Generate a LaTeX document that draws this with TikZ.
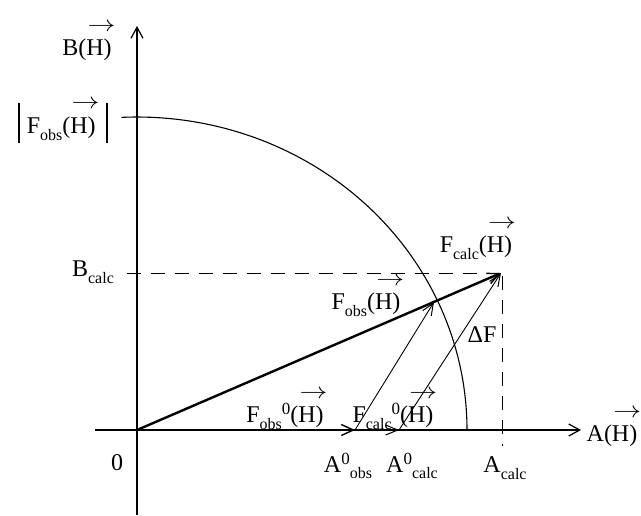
\documentclass[tikz,border=0pt]{standalone}
\usepackage{fontspec}
\setmainfont{Liberation Serif}
\usetikzlibrary{arrows.meta}
\newcommand\vH{(H)\llap{\raisebox{1.02em}{\scalebox{1.12}[0.9]{$\rightarrow$}}\kern-0.16em}}
\newcommand\sbs[1]{\raisebox{-0.28em}{\fontsize{16}{16}\selectfont #1}}
\newcommand\spz{\raisebox{0.33em}{\fontsize{17}{17}\selectfont 0}}
\newcommand\absbar{\rule[-0.42em]{1.3pt}{1.7em}}
\tikzset{
  lbl/.style={inner sep=0pt, font=\fontsize{24}{28}\selectfont},
  axis/.style={line width=1.2pt, -{Straight Barb[length=11pt,width=12pt,line width=1.2pt]}},
  thickvec/.style={line width=2.4pt, -{Straight Barb[length=12pt,width=11pt,line width=1.4pt]}},
  thinvec/.style={line width=0.9pt, -{Straight Barb[length=12pt,width=10pt,line width=1pt]}},
  guide/.style={line width=1pt, dash pattern=on 14pt off 10pt},
}
\begin{document}
\begin{tikzpicture}[x=1pt,y=-1pt]
\useasboundingbox (0,0) rectangle (641,515);
\coordinate (O) at (137,430);
\coordinate (xs) at (95,430);
\coordinate (xe) at (581,430);
\coordinate (ys) at (137,515);
\coordinate (ye) at (137,26);
\coordinate (Aobs) at (355,430);
\coordinate (Acalc0) at (399,430);
\coordinate (Pobs) at (434,302);
\coordinate (Pcalc) at (501,273);
\coordinate (bl) at (127,273);
\coordinate (vd) at (502,446);
\coordinate (vt) at (502,276);
% axes
\draw[axis] (xs) -- (xe);
\draw[axis] (ys) -- (ye);
% circle arc
\draw[line width=1.1pt] (467,430) arc[start angle=0,end angle=-92.7,x radius=330,y radius=313];
% dashed guides
\draw[guide] (bl) -- (Pcalc);
\draw[guide] (vt) -- (vd);
% vectors
\draw[thinvec] (O) -- (Acalc0);
\draw[thickvec] (O) -- (Aobs);
\draw[thickvec] (O) -- (Pcalc);
\draw[thinvec] (Aobs) -- (Pobs);
\draw[thinvec] (Acalc0) -- (Pcalc);
% labels
\node[lbl] (lB) at (87,42) {B\vH};
\node[lbl] (lF) at (63,122) {\absbar\hspace{0.3em}F\sbs{obs}\vH\hspace{0.45em}\absbar};
\node[lbl] (lBc) at (93,272) {B\sbs{calc}};
\node[lbl] (lFc) at (476,240) {F\sbs{calc}\vH};
\node[lbl] (lFo) at (366,297) {F\sbs{obs}\vH};
\node[lbl] (lDF) at (482,335) {ΔF};
\node[lbl] (lFo0) at (285,410) {F\sbs{obs}\spz\vH};
\node[lbl] (lFc0) at (393,410) {F\sbs{calc}\spz\vH};
\node[lbl] (l0) at (117,463) {0};
\node[lbl] (lAo) at (348,466) {A\spz\sbs{obs}};
\node[lbl] (lAc0) at (412,466) {A\spz\sbs{calc}};
\node[lbl] (lAc) at (505,468) {A\sbs{calc}};
\node[lbl] (lA) at (612,428) {A\vH};
\end{tikzpicture}
\end{document}
